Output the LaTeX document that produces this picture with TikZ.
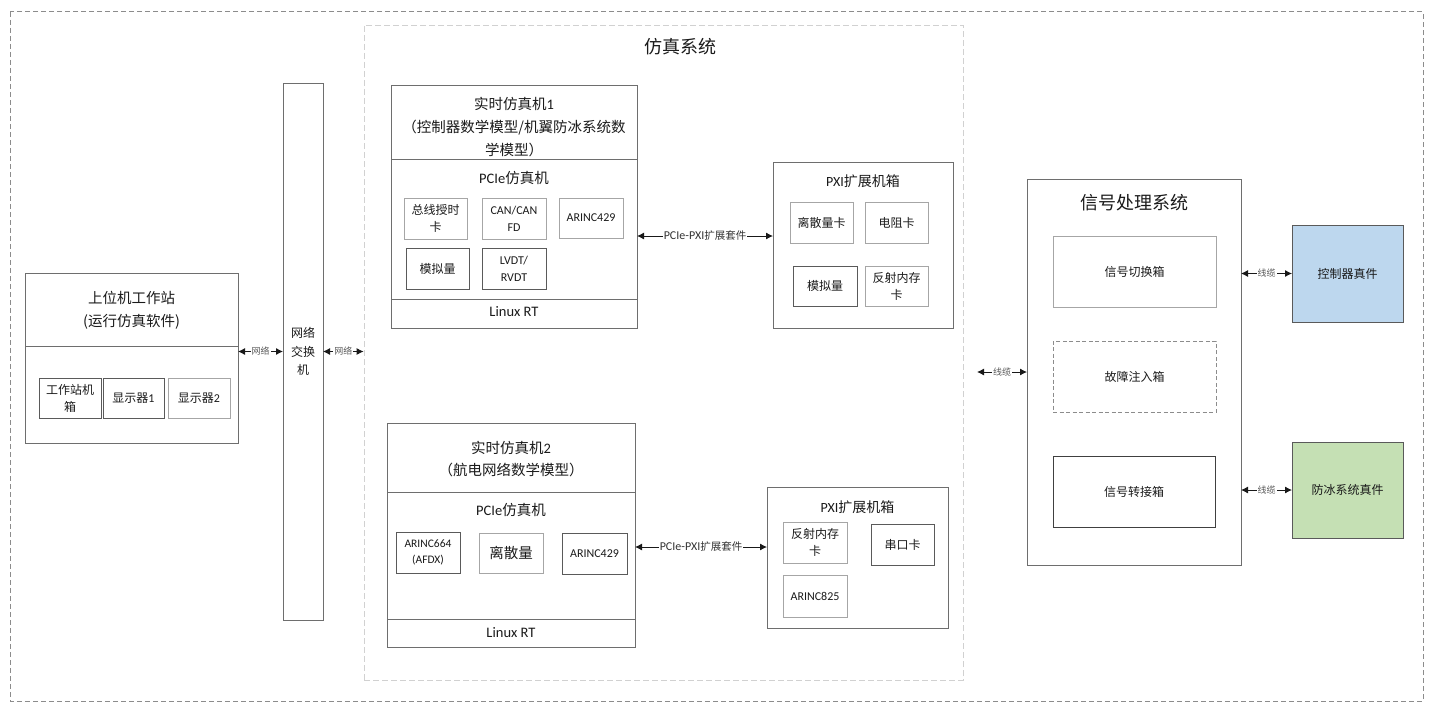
\documentclass[tikz,border=0pt]{standalone}
\usepackage{fontspec}
\setmainfont{Noto Sans CJK SC}
\newfontfamily\lat{Carlito}
\usetikzlibrary{arrows.meta}
\definecolor{tx}{HTML}{1A1A1A}
\definecolor{bd}{HTML}{6E6E6E}
\definecolor{sb}{HTML}{A6A6A6}
\definecolor{sbd}{HTML}{5A5A5A}
\definecolor{blueb}{HTML}{BDD7EE}
\definecolor{greenb}{HTML}{C5E0B4}
\begin{document}
\begin{tikzpicture}[x=1pt,y=-1pt,
 mainbox/.style={draw=bd, line width=1pt, inner sep=0pt, outer sep=0pt},
 subbox/.style={draw=sb, line width=1pt, inner sep=1pt, outer sep=0pt, align=center, text=tx, font=\fontsize{12}{17}\selectfont},
 subdark/.style={subbox, draw=sbd},
 hdr/.style={text=tx, align=center, font=\fontsize{14.5}{23}\selectfont},
 ttl/.style={text=tx, align=center, font=\fontsize{18}{22}\selectfont},
 biarrow/.style={{Latex[length=7pt,width=7pt]}-{Latex[length=7pt,width=7pt]}, line width=0.9pt, draw=black!90},
 cab/.style={fill=white, inner sep=1pt, text=black!65, font=\fontsize{9}{9}\selectfont},
 pcab/.style={cab, text=black!80, font=\fontsize{10.5}{11}\selectfont}
]
\useasboundingbox (0,0) rectangle (1429,709);
% outer frame
\draw[draw=black!45, line width=1pt, dash pattern=on 5pt off 3pt] (10,12) rectangle (1423,701);
% simulation system frame
\node[draw=black!18, line width=0.8pt, dash pattern=on 6pt off 3pt, minimum width=599, minimum height=655, inner sep=0pt] (simsys) at (663.5,352.5) {};
\node[ttl] (simttl) at (680,47) {仿真系统};

% host workstation
\node[mainbox, minimum width=213, minimum height=170] (host) at (131.5,358) {};
\draw[draw=bd, line width=1pt] (25,346) -- (238,346);
\node[hdr] (hostttl) at (131.5,310) {上位机工作站\\(运行仿真软件)};
\node[subdark, minimum width=62, minimum height=40] (ws) at (70,398) {工作站机\\箱};
\node[subdark, minimum width=61, minimum height=40] (d1) at (133.5,398) {显示器{\lat 1}};
\node[subbox, minimum width=62, minimum height=40] (d2) at (199,398) {显示器{\lat 2}};

% switch
\node[mainbox, minimum width=40, minimum height=537, align=center, text=tx, font=\fontsize{12}{18.5}\selectfont] (sw) at (303,351.5) {网络\\交换\\机};

\draw[biarrow] (host.east |- sw.west) -- node[cab]{网络} (sw.west);
\draw[biarrow] (sw.east) -- node[cab]{网络} (sw.east -| simsys.west);

% real-time simulator 1
\node[mainbox, minimum width=246, minimum height=243] (sim1) at (514,206.5) {};
\draw[draw=bd, line width=1pt] (391,159) -- (637,159);
\draw[draw=bd, line width=1pt] (391,299) -- (637,299);
\node[hdr] (sim1ttl) at (514,127) {实时仿真机{\lat 1}\\（控制器数学模型/机翼防冰系统数\\学模型）};
\node[hdr] (sim1pc) at (514,178) {{\lat PCIe}仿真机};
\node[hdr] (sim1os) at (514,312) {\lat Linux RT};
\node[subbox, minimum width=63, minimum height=41] (c1) at (435.5,218.5) {总线授时\\卡};
\node[subbox, minimum width=64, minimum height=41, font=\lat\fontsize{12}{17}\selectfont] (c2) at (514,218.5) {CAN/CAN\\FD};
\node[subbox, minimum width=64, minimum height=40, font=\lat\fontsize{12}{17}\selectfont] (c3) at (591,218) {ARINC429};
\node[subdark, minimum width=63, minimum height=41] (c4) at (437.5,268.5) {模拟量};
\node[subdark, minimum width=64, minimum height=41, font=\lat\fontsize{12}{17}\selectfont] (c5) at (514,268.5) {LVDT/\\RVDT};

% PXI 1
\node[mainbox, minimum width=180, minimum height=166] (pxi1) at (863,245) {};
\node[hdr, font=\fontsize{14}{16}\selectfont] (pxi1ttl) at (863,181) {{\lat PXI}扩展机箱};
\node[subbox, minimum width=63, minimum height=41] (p1) at (821.5,222.5) {离散量卡};
\node[subbox, minimum width=63, minimum height=41] (p2) at (896.5,222.5) {电阻卡};
\node[subdark, minimum width=64, minimum height=40] (p3) at (825,286) {模拟量};
\node[subbox, minimum width=63, minimum height=40] (p4) at (896.5,286) {反射内存\\卡};

\draw[biarrow] ([yshift=-29.5pt]sim1.east) -- node[pcab]{{\lat\fontsize{12}{12}\selectfont PCIe-PXI}扩展套件} ([yshift=-29.5pt]sim1.east -| pxi1.west);

% real-time simulator 2
\node[mainbox, minimum width=248, minimum height=224] (sim2) at (511,535) {};
\draw[draw=bd, line width=1pt] (387,492) -- (635,492);
\draw[draw=bd, line width=1pt] (387,619) -- (635,619);
\node[hdr, font=\fontsize{14.5}{22}\selectfont] (sim2ttl) at (511,459) {实时仿真机{\lat 2}\\（航电网络数学模型）};
\node[hdr] (sim2pc) at (511,510) {{\lat PCIe}仿真机};
\node[hdr] (sim2os) at (511,633) {\lat Linux RT};
\node[subdark, minimum width=64, minimum height=41, font=\lat\fontsize{11.5}{16}\selectfont] (s1) at (428,552.5) {ARINC664\\(AFDX)};
\node[subbox, minimum width=64, minimum height=40, font=\fontsize{14.5}{17}\selectfont] (s2) at (511,553) {离散量};
\node[subdark, minimum width=65, minimum height=41, font=\lat\fontsize{12}{17}\selectfont] (s3) at (594.5,553.5) {ARINC429};

% PXI 2
\node[mainbox, minimum width=181, minimum height=141] (pxi2) at (857.5,557.5) {};
\node[hdr, font=\fontsize{14}{16}\selectfont] (pxi2ttl) at (857.5,507) {{\lat PXI}扩展机箱};
\node[subbox, minimum width=64, minimum height=41] (q1) at (815,542.5) {反射内存\\卡};
\node[subdark, minimum width=63, minimum height=41] (q2) at (902.5,544.5) {串口卡};
\node[subbox, minimum width=64, minimum height=42, font=\lat\fontsize{12}{17}\selectfont] (q3) at (815,596) {ARINC825};

\draw[biarrow] ([yshift=-12pt]sim2.east) -- node[pcab]{{\lat\fontsize{12}{12}\selectfont PCIe-PXI}扩展套件} ([yshift=-12pt]sim2.east -| pxi2.west);

% signal processing system
\node[mainbox, minimum width=214, minimum height=386] (sig) at (1134,372) {};
\node[ttl] (sigttl) at (1134,203) {信号处理系统};
\node[subbox, minimum width=163, minimum height=71] (g1) at (1134.5,271.5) {信号切换箱};
\node[subbox, draw=black!45, dash pattern=on 4pt off 2.5pt, minimum width=163, minimum height=71] (g2) at (1134.5,376.5) {故障注入箱};
\node[subdark, draw=black!75, minimum width=162, minimum height=71] (g3) at (1134,491.5) {信号转接箱};

% real parts
\node[subdark, fill=blueb, minimum width=111, minimum height=97] (r1) at (1347.5,273.5) {控制器真件};
\node[subdark, fill=greenb, minimum width=111, minimum height=96] (r2) at (1347.5,490) {防冰系统真件};

\coordinate (cl) at (977,372);
\draw[biarrow] (cl) -- node[cab]{线缆} (sig.west);
\draw[biarrow] (sig.east |- r1.west) -- node[cab]{线缆} (r1.west);
\draw[biarrow] (sig.east |- r2.west) -- node[cab]{线缆} (r2.west);
\end{tikzpicture}
\end{document}
